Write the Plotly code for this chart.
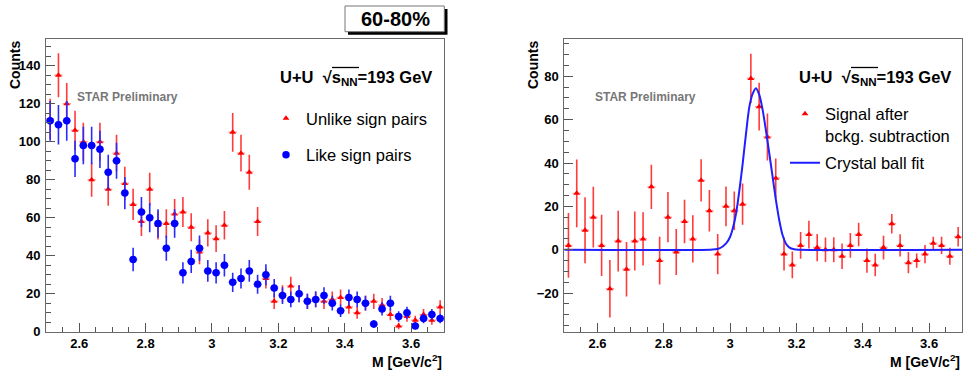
import plotly.graph_objects as go

W, H = 965, 372

# ---------------- data ----------------
mass = [2.5125, 2.5375, 2.5625, 2.5875, 2.6125, 2.6375, 2.6625, 2.6875, 2.7125, 2.7375,
        2.7625, 2.7875, 2.8125, 2.8375, 2.8625, 2.8875, 2.9125, 2.9375, 2.9625, 2.9875,
        3.0125, 3.0375, 3.0625, 3.0875, 3.1125, 3.1375, 3.1625, 3.1875, 3.2125, 3.2375,
        3.2625, 3.2875, 3.3125, 3.3375, 3.3625, 3.3875, 3.4125, 3.4375, 3.4625, 3.4875,
        3.5125, 3.5375, 3.5625, 3.5875, 3.6125, 3.6375, 3.6625, 3.6875]
half_bin = 0.0125

unlike = [112, 135, 120, 106, 100, 80, 100, 75, 94, 78, 67, 58, 75, 56, 57, 62, 63, 55, 42, 52,
          49, 56, 105, 94, 84, 58, 28, 16, 20, 24, 20, 16, 17, 16, 17, 18, 13, 10, 15, 16,
          14, 9, 3, 8, 6, 9, 6, 13]
unlike_err = [10.6, 11.6, 11.0, 10.3, 10.0, 8.9, 10.0, 8.7, 9.7, 8.8, 8.2, 7.6, 8.7, 7.5, 7.5, 7.9,
              7.9, 7.4, 6.5, 7.2, 7.0, 7.5, 10.2, 9.7, 9.2, 7.6, 5.3, 4.0, 4.5, 4.9, 4.5, 4.0,
              4.1, 4.0, 4.1, 4.2, 3.6, 3.2, 3.9, 4.0, 3.7, 3.0, 1.7, 2.8, 2.4, 3.0, 2.4, 3.6]

like = [111, 109, 111, 91, 98, 98, 96, 84, 90, 73, 38, 63, 60, 57, 44, 57, 31, 37, 44, 32,
        31, 35, 26, 28, 32, 25, 30, 23, 19, 17, 20, 16, 17, 19, 15, 11, 18, 17, 15, 4,
        12, 15, 8, 10, 3, 7, 9, 7]
like_err = [10.5, 10.4, 10.5, 9.5, 9.9, 9.9, 9.8, 9.2, 9.5, 8.5, 6.2, 7.9, 7.7, 7.5, 6.6, 7.5,
            5.6, 6.1, 6.6, 5.7, 5.6, 5.9, 5.1, 5.3, 5.7, 5.0, 5.5, 4.8, 4.4, 4.1, 4.5, 4.0,
            4.1, 4.4, 3.9, 3.3, 4.2, 4.1, 3.9, 2.0, 3.5, 3.9, 2.8, 3.2, 1.7, 2.6, 3.0, 2.6]

signal = [2, 26, 9, 15, 2, -18, 4, -9, 4, 5, 29, -5, 15, -1, 13, 5, 32, 18, -2, 20,
          18, 21, 79, 66, 52, 33, -2, -7, 2, 7, 1, 0, 0, -3, 2, 7, -5, -7, 1, 12,
          2, -6, -5, -2, 3, 2, -3, 6]
signal_err = [14.9, 15.6, 15.2, 14.0, 14.1, 13.3, 14.0, 12.6, 13.6, 12.3, 10.2, 11.0, 11.6, 10.6,
              10.0, 10.9, 9.7, 9.6, 9.3, 9.2, 8.9, 9.5, 11.4, 11.0, 10.8, 9.1, 7.6, 6.2, 6.2,
              6.4, 6.3, 5.7, 5.8, 5.9, 5.7, 5.4, 5.6, 5.2, 5.5, 4.5, 5.1, 4.9, 3.3, 4.2, 3.0,
              4.0, 3.9, 4.5]

fit_x = [2.50, 2.94, 2.955, 2.968, 2.988, 3.000, 3.008, 3.018, 3.028, 3.038, 3.048, 3.058,
         3.068, 3.078, 3.088, 3.098, 3.108, 3.118, 3.128, 3.138, 3.148, 3.158, 3.168, 3.178,
         3.193, 3.21, 3.70]
fit_y = [0, 0, 0.2, 0.6, 2.9, 6.0, 9.8, 16.8, 27.5, 40.0, 53.7, 66.0, 72.0, 74.5, 71.4, 64.5,
         55.0, 44.5, 33.7, 23.0, 13.7, 6.8, 2.9, 1.1, 0.2, 0, 0]

x_ticks = [2.6, 2.8, 3.0, 3.2, 3.4, 3.6]
x_ticktext = ["2.6", "2.8", "3", "3.2", "3.4", "3.6"]

RED = "#ff0000"
RED_BAR = "#ff3b3b"
RED_H = "#ff9a9a"
BLUE = "#0000ff"
BLUE_BAR = "#2a2aff"
BLUE_H = "#8c8cff"

FONT = "Liberation Sans"

fig = go.Figure()

fig.add_trace(go.Scatter(
    x=mass, y=unlike, mode="markers", name="Unlike sign pairs",
    marker=dict(symbol="triangle-up", size=6, color=RED),
    error_y=dict(type="data", array=unlike_err, width=0, thickness=1.6, color=RED_BAR),
    error_x=dict(type="constant", value=half_bin, width=0, thickness=1.4, color=RED_H),
    xaxis="x", yaxis="y", legend="legend", legendgroup="a"))

fig.add_trace(go.Scatter(
    x=mass, y=like, mode="markers", name="Like sign pairs",
    marker=dict(symbol="circle", size=7.5, color=BLUE),
    error_y=dict(type="data", array=like_err, width=0, thickness=1.6, color=BLUE_BAR),
    error_x=dict(type="constant", value=half_bin, width=0, thickness=1.4, color=BLUE_H),
    xaxis="x", yaxis="y", legend="legend", legendgroup="b"))

fig.add_trace(go.Scatter(
    x=mass, y=signal, mode="markers", name="Signal after<br>bckg. subtraction",
    marker=dict(symbol="triangle-up", size=6, color=RED),
    error_y=dict(type="data", array=signal_err, width=0, thickness=1.6, color=RED_BAR),
    error_x=dict(type="constant", value=half_bin, width=0, thickness=1.4, color=RED_H),
    xaxis="x2", yaxis="y2", legend="legend2", legendgroup="c"))

fig.add_trace(go.Scatter(
    x=fit_x, y=fit_y, mode="lines", name="Crystal ball fit",
    line=dict(color="#1f1fff", width=2, shape="spline", smoothing=0.8),
    xaxis="x2", yaxis="y2", legend="legend2", legendgroup="d"))

def px(x):
    return x / W

def py(y):
    return 1 - y / H

ydom = [py(331.7), py(39.2)]

axis_common = dict(
    showgrid=False, zeroline=False, showline=True, linecolor="#6a6a6a", linewidth=1,
    mirror=True, ticks="inside", ticklen=9, tickwidth=1, tickcolor="#555",
    automargin=False,
    tickfont=dict(family=FONT, size=13, color="black", weight="bold"),
)

fig.update_layout(
    width=W, height=H, margin=dict(l=0, r=0, t=0, b=0, autoexpand=False),
    paper_bgcolor="white", plot_bgcolor="white",
    xaxis=dict(domain=[px(46), px(444.3)], range=[2.5, 3.7], tickvals=x_ticks,
               ticktext=x_ticktext, anchor="y",
               minor=dict(ticks="inside", dtick=0.05, tick0=2.5, ticklen=5, tickcolor="#555"),
               **axis_common),
    yaxis=dict(domain=ydom, range=[0, 154], dtick=20, anchor="x",
               minor=dict(ticks="inside", dtick=5, ticklen=5, tickcolor="#555"),
               ticklabelstandoff=2, **axis_common),
    xaxis2=dict(domain=[px(564.3), px(962.3)], range=[2.5, 3.7], tickvals=x_ticks,
                ticktext=x_ticktext, anchor="y2",
                minor=dict(ticks="inside", dtick=0.05, tick0=2.5, ticklen=5, tickcolor="#555"),
                **axis_common),
    yaxis2=dict(domain=ydom, range=[-37.8, 97.1], dtick=20, anchor="x2",
                minor=dict(ticks="inside", dtick=5, ticklen=5, tickcolor="#555"),
                ticklabelstandoff=2, **axis_common),
    legend=dict(x=px(266), y=py(101), xanchor="left", yanchor="top",
                font=dict(family=FONT, size=16.5, color="black"),
                bgcolor="rgba(0,0,0,0)", tracegroupgap=12, itemwidth=30),
    legend2=dict(x=px(785), y=py(96.5), xanchor="left", yanchor="top", valign="top",
                 font=dict(family=FONT, size=16.5, color="black"),
                 bgcolor="rgba(0,0,0,0)", tracegroupgap=3, itemwidth=30),
    showlegend=True,
)

ann = []
# axis titles
for xc, xr in [(15, 444.3), (533, 962.3)]:
    ann.append(dict(text="<b>Counts</b>", x=px(xc), y=py(39), xref="paper", yref="paper",
                    xanchor="center", yanchor="top", textangle=-90, showarrow=False,
                    font=dict(family=FONT, size=14, color="black")))
    ann.append(dict(text="<b>M [GeV/c<sup>2</sup>]</b>", x=px(xr), y=py(361), xref="paper",
                    yref="paper", xanchor="right", yanchor="middle", showarrow=False,
                    font=dict(family=FONT, size=14, color="black")))
# energy labels
for xr in [434, 953]:
    ann.append(dict(text="<b>U+U  \u221as<sub>NN</sub>=193 GeV</b>", x=px(xr), y=py(78),
                    xref="paper", yref="paper", xanchor="right", yanchor="middle",
                    showarrow=False, font=dict(family=FONT, size=16.5, color="black")))
# STAR preliminary
for xl in [75, 593]:
    ann.append(dict(text="<b>STAR Preliminary</b>", x=px(xl), y=py(97), xref="paper",
                    yref="paper", xanchor="left", yanchor="middle", showarrow=False,
                    font=dict(family=FONT, size=12, color="#777777")))
# centrality box text
ann.append(dict(text="<b>60-80%</b>", x=px(395), y=py(19.5), xref="paper", yref="paper",
                xanchor="center", yanchor="middle", showarrow=False,
                font=dict(family=FONT, size=20, color="black")))

shapes = [
    dict(type="rect", xref="paper", yref="paper", x0=px(348), x1=px(447.5), y0=py(34.7),
         y1=py(9), fillcolor="black", line=dict(width=0), layer="above"),
    dict(type="rect", xref="paper", yref="paper", x0=px(345), x1=px(444.3), y0=py(31.7),
         y1=py(6), fillcolor="white", line=dict(color="#777", width=1), layer="above"),
]
# overline of the square root in the energy labels
for x0, x1 in [(332, 359), (851, 878)]:
    shapes.append(dict(type="line", xref="paper", yref="paper", x0=px(x0), x1=px(x1),
                       y0=py(67.5), y1=py(67.5), line=dict(color="black", width=1.3),
                       layer="above"))

fig.update_layout(annotations=ann, shapes=shapes)

fig.write_html("out.html")
